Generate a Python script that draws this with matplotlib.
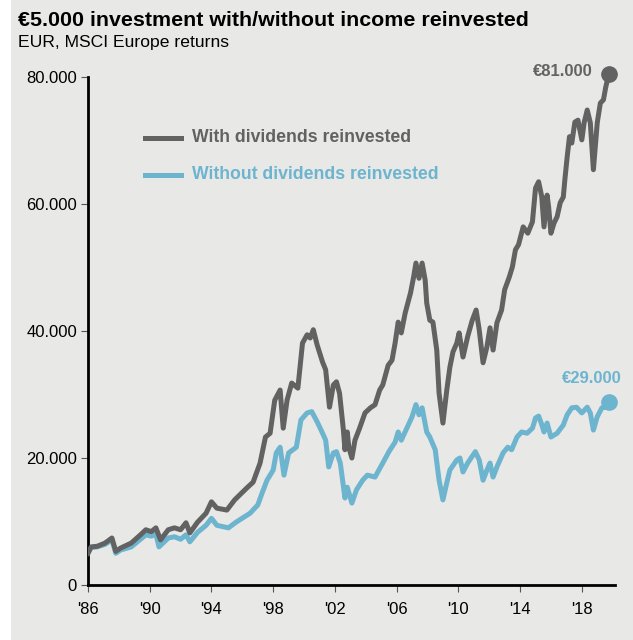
import matplotlib.pyplot as plt
import matplotlib.patches as mpatches
import numpy as np

plt.rcParams['font.family'] = ['Liberation Sans', 'DejaVu Sans']

# With dividends reinvested (EUR)
yrs_with = [1986.0, 1986.2, 1986.6, 1987.1, 1987.55, 1987.8, 1988.1, 1988.8, 1989.4, 1989.75,
            1990.1, 1990.4, 1990.7, 1991.2, 1991.6, 1992.0, 1992.35, 1992.6, 1993.1, 1993.65,
            1994.0, 1994.35, 1995.0, 1995.5, 1996.3, 1996.7, 1997.15, 1997.5, 1997.8, 1998.1,
            1998.45, 1998.65, 1998.9, 1999.2, 1999.6, 1999.9, 2000.2, 2000.4, 2000.6, 2000.85,
            2001.2, 2001.4, 2001.65, 2001.9, 2002.1, 2002.3, 2002.55, 2002.65, 2002.8, 2002.9,
            2003.1, 2003.3, 2003.6, 2003.95, 2004.3, 2004.6, 2004.9, 2005.1, 2005.45, 2005.7,
            2005.9, 2006.1, 2006.3, 2006.55, 2006.9, 2007.1, 2007.25, 2007.45, 2007.65, 2007.85,
            2007.95, 2008.15, 2008.35, 2008.6, 2008.75, 2009.0, 2009.25, 2009.45, 2009.65, 2009.9,
            2010.05, 2010.3, 2010.6, 2010.9, 2011.15, 2011.35, 2011.6, 2011.85, 2012.05, 2012.25,
            2012.5, 2012.8, 2013.0, 2013.3, 2013.5, 2013.7, 2013.9, 2014.2, 2014.5, 2014.8,
            2015.0, 2015.2, 2015.4, 2015.55, 2015.75, 2015.85, 2016.0, 2016.2, 2016.4, 2016.6,
            2016.8, 2016.9, 2017.05, 2017.2, 2017.35, 2017.55, 2017.75, 2018.0, 2018.15, 2018.35,
            2018.55, 2018.75, 2019.0, 2019.2, 2019.4, 2019.55, 2019.75]
val_with = [5000, 6000, 6100, 6600, 7400, 5300, 5800, 6600, 7900, 8700,
            8400, 9000, 7100, 8700, 9000, 8700, 9800, 8200, 9900, 11300,
            13100, 12100, 11800, 13400, 15300, 16200, 19200, 23300, 23900, 29100,
            30700, 24700, 29100, 31800, 31000, 38100, 39400, 38900, 40200, 37800,
            35100, 33900, 28000, 31500, 32000, 30200, 24400, 21300, 24100, 21700,
            20000, 22800, 24700, 27100, 27900, 28400, 30700, 31500, 34600, 35400,
            38100, 41400, 39700, 42800, 46000, 48500, 50700, 48300, 50700, 48000,
            44400, 41700, 41400, 37000, 30200, 25500, 30700, 34300, 36700, 38100,
            39700, 35900, 39100, 41700, 43300, 40200, 35000, 37500, 40500, 37000,
            41300, 43300, 46500, 48500, 50100, 52800, 53600, 56400, 55400, 57200,
            62500, 63500, 61200, 56400, 61400, 59500, 55400, 57000, 58000, 60200,
            61100, 63800, 67400, 70600, 69600, 72900, 73200, 70100, 72800, 74800,
            72800, 65400, 72800, 75900, 76400, 78400, 80500]

# Without dividends reinvested (EUR)
yrs_without = [1986.0, 1986.2, 1986.6, 1987.1, 1987.55, 1987.8, 1988.1, 1988.8, 1989.4, 1989.75,
               1990.1, 1990.4, 1990.6, 1991.2, 1991.6, 1992.0, 1992.35, 1992.6, 1993.1, 1993.65,
               1994.0, 1994.35, 1995.1, 1995.6, 1996.5, 1997.0, 1997.3, 1997.6, 1998.0, 1998.2,
               1998.45, 1998.7, 1999.0, 1999.5, 1999.8, 2000.2, 2000.5, 2000.85, 2001.2, 2001.4,
               2001.6, 2001.9, 2002.1, 2002.35, 2002.65, 2002.8, 2003.1, 2003.4, 2003.8, 2004.1,
               2004.6, 2005.1, 2005.5, 2005.9, 2006.1, 2006.3, 2006.7, 2007.0, 2007.25, 2007.45,
               2007.65, 2007.95, 2008.15, 2008.5, 2008.75, 2009.0, 2009.25, 2009.45, 2009.9, 2010.1,
               2010.3, 2010.6, 2011.1, 2011.35, 2011.6, 2011.85, 2012.05, 2012.25, 2012.5, 2012.9,
               2013.2, 2013.45, 2013.8, 2014.1, 2014.45, 2014.8, 2015.0, 2015.2, 2015.4, 2015.55,
               2015.75, 2016.0, 2016.4, 2016.8, 2017.05, 2017.35, 2017.65, 2018.0, 2018.35, 2018.55,
               2018.75, 2019.0, 2019.3, 2019.55, 2019.75]
val_without = [5000, 5900, 6000, 6400, 7100, 5000, 5500, 6000, 7200, 7900,
               7700, 8000, 6000, 7400, 7600, 7200, 7900, 6800, 8300, 9400,
               10500, 9400, 9000, 9900, 11300, 12600, 14600, 16500, 18100, 20800,
               21700, 17300, 20800, 21700, 26000, 27100, 27300, 25700, 23900, 22800,
               18600, 20800, 21000, 19200, 13700, 15400, 12900, 15000, 16500, 17300,
               17000, 19200, 21000, 22500, 24100, 22800, 24900, 26500, 28400, 26800,
               27900, 24100, 23300, 21300, 16500, 13400, 16100, 18100, 19700, 20000,
               17800, 19200, 21000, 19700, 16500, 18100, 19200, 17000, 18600, 20800,
               21700, 21300, 23300, 24100, 23900, 24700, 26300, 26600, 25300, 24100,
               25500, 23300, 23900, 25200, 26800, 27900, 28000, 27100, 28000, 27100,
               24400, 26500, 27900, 28000, 28800]

x_ticks = [1986, 1990, 1994, 1998, 2002, 2006, 2010, 2014, 2018]
x_labels = ["'86", "'90", "'94", "'98", "'02", "'06", "'10", "'14", "'18"]
y_ticks = [0, 20000, 40000, 60000, 80000]
y_labels = ['0', '20.000', '40.000', '60.000', '80.000']

grey = '#626262'
blue = '#6db4cf'
bg = '#e8e8e6'

fig = plt.figure(figsize=(6.33, 6.40), dpi=100)
fig.patch.set_facecolor(bg)
# small white strip on the left edge
fig.patches.append(mpatches.Rectangle((0, 0), 11 / 633, 1, transform=fig.transFigure,
                                      facecolor='white', edgecolor='none', zorder=-1))

ax = fig.add_axes([88 / 633, 55 / 640, 527 / 633, 508 / 640])
ax.set_facecolor('none')

ax.plot(yrs_with, val_with, color=grey, lw=3.6, solid_joinstyle='round', zorder=3)
ax.plot(yrs_without, val_without, color=blue, lw=3.6, solid_joinstyle='round', zorder=2)
ax.plot(yrs_with[-1], val_with[-1], 'o', color=grey, ms=11, clip_on=False, zorder=4)
ax.plot(yrs_without[-1], val_without[-1], 'o', color=blue, ms=11, clip_on=False, zorder=4)

ax.text(2018.7, 80800, '€81.000', color=grey, fontsize=12, fontweight='bold',
        ha='right', va='center')
ax.text(2020.55, 32500, '€29.000', color=blue, fontsize=12, fontweight='bold',
        ha='right', va='center')

ax.set_xlim(1986, 2020.15)
ax.set_ylim(0, 80000)
ax.set_xticks(x_ticks)
ax.set_xticklabels(x_labels, fontsize=12)
ax.set_yticks(y_ticks)
ax.set_yticklabels(y_labels, fontsize=12)
ax.tick_params(length=5, width=0.8, color='#555555', pad=3)
ax.tick_params(axis='x', pad=7)

for side in ['top', 'right']:
    ax.spines[side].set_visible(False)
for side in ['left', 'bottom']:
    ax.spines[side].set_linewidth(2)
    ax.spines[side].set_color('black')

# legend drawn as lines + text
ax.plot([1989.7, 1992.05], [70400, 70400], color=grey, lw=3.6)
ax.plot([1989.7, 1992.05], [64600, 64600], color=blue, lw=3.6)
ax.text(1992.75, 70400, 'With dividends reinvested', color=grey, fontsize=12.7,
        fontweight='bold', va='center')
ax.text(1992.75, 64600, 'Without dividends reinvested', color=blue, fontsize=12.7,
        fontweight='bold', va='center')

fig.text(18 / 633, 1 - 20 / 640, '€5.000 investment with/without income reinvested',
         fontsize=15.4, fontweight='bold', va='center')
fig.text(18 / 633, 1 - 42 / 640, 'EUR, MSCI Europe returns', fontsize=12.6, va='center')

fig.savefig('out.png', dpi=100)
